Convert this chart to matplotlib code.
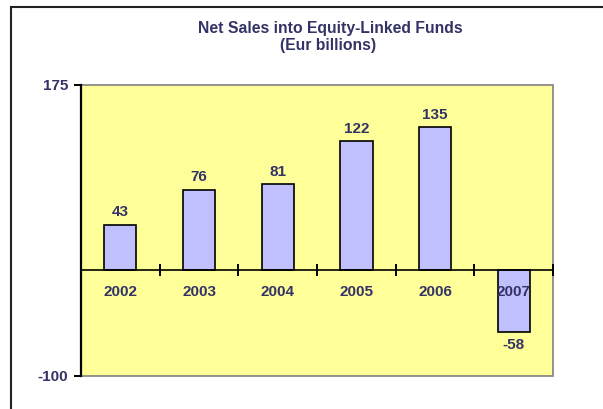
import numpy as np
import matplotlib
matplotlib.use("Agg")
import matplotlib.pyplot as plt
from matplotlib.lines import Line2D

years = ["2002", "2003", "2004", "2005", "2006", "2007"]
net_sales = [43, 76, 81, 122, 135, -58]
y_ticks = [175, -100]

text_col = "#333366"
plt.rcParams["font.family"] = ["Liberation Sans", "DejaVu Sans"]
plt.rcParams["font.weight"] = "bold"

fig = plt.figure(figsize=(6.03, 4.09), dpi=100)
ax = fig.add_axes([0.1343, 0.0807, 0.783, 0.7115])
ax.set_facecolor("#FFFF99")
ax.patch.set_edgecolor("#808080")
ax.patch.set_linewidth(1.2)

x = np.arange(len(years))
bars = ax.bar(x, net_sales, width=0.41, color="#C0C0FF", edgecolor="black", linewidth=1.2, zorder=2)

for xi, v in zip(x, net_sales):
    if v >= 0:
        ax.annotate(str(v), (xi, v), xytext=(0, 4), textcoords="offset points",
                    ha="center", va="bottom", color=text_col, fontsize=11, fontweight="bold")
    else:
        ax.annotate(str(v), (xi, v), xytext=(0, -5), textcoords="offset points",
                    ha="center", va="top", color=text_col, fontsize=11, fontweight="bold")

ax.set_xlim(-0.5, len(years) - 0.5)
ax.set_ylim(-100, 175)

# spines
for s in ["top", "right"]:
    ax.spines[s].set_visible(False)
ax.spines["bottom"].set_position(("data", 0))
ax.spines["bottom"].set_color("black")
ax.spines["bottom"].set_linewidth(1.2)
ax.spines["bottom"].set_zorder(4)
ax.spines["left"].set_color("black")
ax.spines["left"].set_linewidth(1.6)
ax.xaxis.set_zorder(4)

ax.set_xticks(x)
ax.set_xticklabels(years, color=text_col, fontsize=11, fontweight="bold")
ax.set_xticks(np.arange(-0.5, len(years)), minor=True)
ax.tick_params(axis="x", which="major", length=0, pad=11)
ax.tick_params(axis="x", which="minor", length=8, direction="inout", width=1.4, color="black")

ax.set_yticks(y_ticks)
ax.set_yticklabels([str(t) for t in y_ticks], color=text_col, fontsize=11, fontweight="bold")
ax.tick_params(axis="y", length=5, width=1.4, direction="out", color="black", pad=4)

fig.text(0.548, 0.931, "Net Sales into Equity-Linked Funds", ha="center", va="center",
         color=text_col, fontsize=11.3, fontweight="bold")
fig.text(0.544, 0.888, "(Eur billions)", ha="center", va="center",
         color=text_col, fontsize=11.3, fontweight="bold")

# outer chart frame
fig.add_artist(Line2D([0.018, 0.018], [0, 0.983], transform=fig.transFigure, color="#222222", lw=1.5))
fig.add_artist(Line2D([0.018, 1.0], [0.983, 0.983], transform=fig.transFigure, color="#222222", lw=1.5))

fig.savefig("out.png", dpi=100)
